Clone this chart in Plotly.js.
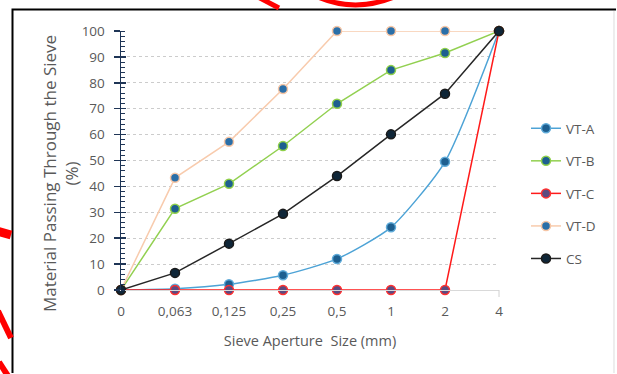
<!DOCTYPE html>
<html>
<head>
<meta charset="utf-8">
<script src="https://cdn.plot.ly/plotly-3.0.1.min.js"></script>
<style>
html,body{margin:0;padding:0;background:#fff;}
#chart{width:617px;height:374px;}
</style>
</head>
<body>
<div id="chart"></div>
<script>
// ---- data ----
const sieveSizes = ["0", "0,063", "0,125", "0,25", "0,5", "1", "2", "4"];
const vtA = [0, 0.5, 2.2, 5.7, 12, 24.2, 49.5, 100];
const vtB = [0, 31.4, 41, 55.6, 71.9, 84.9, 91.5, 100];
const vtC = [0, 0, 0, 0, 0, 0, 0, 100];
const vtD = [0, 43.3, 57.2, 77.6, 100, 100, 100, 100];
const cs  = [0, 6.6, 17.9, 29.4, 44, 60.1, 75.8, 100];
const seriesNames = ["VT-A", "VT-B", "VT-C", "VT-D", "CS"];

// ---- styles ----
const styles = [
  {line:'#4da3d6', fill:'#1d5f90', edge:'#5fabd9', shape:'spline'},
  {line:'#92d050', fill:'#1d5f90', edge:'#8fd04a', shape:'linear'},
  {line:'#ff1a1a', fill:'#5b4b80', edge:'#ff3030', shape:'linear'},
  {line:'#f8cbad', fill:'#2a6fa8', edge:'#f6c6a6', shape:'linear'},
  {line:'#262626', fill:'#0f2638', edge:'#1a1a1a', shape:'linear'}
];
const values = [vtA, vtB, vtC, vtD, cs];

const traces = values.map((v, i) => ({
  type: 'scatter',
  mode: 'lines+markers',
  x: sieveSizes,
  y: v,
  name: seriesNames[i],
  legendgroup: 'g' + i,
  line: {color: styles[i].line, width: 1.5, shape: styles[i].shape, smoothing: 0.6},
  marker: {size: 9, color: styles[i].fill, line: {color: styles[i].edge, width: 1.5}},
  cliponaxis: false
}));

// helper to convert pixel positions into paper coordinates (plot area 121..499 x 31..290)
const PX0 = 121, PX1 = 499, PY0 = 290, PY1 = 31;
const px = x => (x - PX0) / (PX1 - PX0);
const py = y => (PY0 - y) / (PY0 - PY1);
const P = (x, y) => `${px(x).toFixed(5)},${py(y).toFixed(5)}`;

const red = '#ff0000';
const shapes = [
  // frame
  {type:'path', xref:'paper', yref:'paper', layer:'above',
   path:`M ${P(12.5,373)} L ${P(12.5,9.5)} L ${P(616,9.5)}`,
   line:{color:'#000000', width:2}},
  {type:'path', xref:'paper', yref:'paper', layer:'above',
   path:`M ${P(614,11)} L ${P(614,373)}`,
   line:{color:'#dcdcdc', width:1}},
  // end tick on the category axis
  {type:'path', xref:'paper', yref:'paper', layer:'above',
   path:`M ${P(499,290)} L ${P(499,297)}`,
   line:{color:'#d0d0d0', width:1}},
  // red hand-drawn annotation marks (outside the frame)
  {type:'path', xref:'paper', yref:'paper', layer:'above',
   path:`M ${P(318,-3)} Q ${P(355,13)} ${P(394,-3)}`,
   line:{color:red, width:5}},
  {type:'path', xref:'paper', yref:'paper', layer:'above',
   path:`M ${P(258,-3)} L ${P(279,8)}`, line:{color:red, width:5}},
  {type:'path', xref:'paper', yref:'paper', layer:'above',
   path:`M ${P(-3,231)} L ${P(11,235)}`, line:{color:red, width:9}},
  {type:'path', xref:'paper', yref:'paper', layer:'above',
   path:`M ${P(-2,311)} L ${P(11,338)}`, line:{color:red, width:6}},
  {type:'path', xref:'paper', yref:'paper', layer:'above',
   path:`M ${P(-1,362)} L ${P(8,376)}`, line:{color:red, width:6}}
];

const tickFont = {family:'Open Sans, sans-serif', size:13.5, color:'#595959'};

const layout = {
  width: 617, height: 374,
  margin: {l: PX0, r: 617 - PX1, t: PY1, b: 374 - PY0},
  paper_bgcolor: '#fff', plot_bgcolor: '#fff',
  showlegend: true,
  legend: {x: px(526), y: py(113), xanchor:'left', yanchor:'top',
           font:{family:'Open Sans, sans-serif', size:13.5, color:'#595959'},
           tracegroupgap: 12, itemwidth: 30, bgcolor:'rgba(0,0,0,0)'},
  xaxis: {
    type:'category', range:[0, 7], fixedrange:true,
    showgrid:false, zeroline:false,
    showline:true, linecolor:'#d9d9d9', linewidth:1,
    ticks:'outside', ticklen:9, tickcolor:'rgba(0,0,0,0)',
    tickfont: tickFont,
    title:{text:'Sieve Aperture  Size (mm)', font:{family:'Open Sans, sans-serif', size:14.5, color:'#595959'}, standoff:16}
  },
  yaxis: {
    range:[0, 100], dtick:10, fixedrange:true,
    showgrid:true, gridcolor:'#cccccc', griddash:'dot', gridwidth:1,
    zeroline:false,
    showline:true, linecolor:'#1f3556', linewidth:1.5,
    ticks:'outside', ticklen:6, tickcolor:'#1f3556', tickwidth:1.5,
    minor:{ticks:'inside', dtick:2, ticklen:4, tickcolor:'#1f3556', tickwidth:1},
    tickfont: tickFont, ticklabelstandoff: 6
  },
  yaxis2: {
    overlaying:'y', range:[0, 100], dtick:10, side:'left', fixedrange:true,
    showgrid:false, zeroline:false, showline:false, showticklabels:false,
    ticks:'inside', ticklen:5, tickcolor:'#1f3556', tickwidth:1.5
  },
  annotations: [
    {xref:'paper', yref:'paper', x: px(60), y: py(174), xanchor:'center', yanchor:'middle',
     textangle:-90, showarrow:false,
     text:'Material Passing Through the Sieve<br>(%)',
     font:{family:'Open Sans, sans-serif', size:17, color:'#595959'}}
  ],
  shapes: shapes
};

// invisible helper trace to show yaxis2 ticks
traces.unshift({type:'scatter', x:[sieveSizes[0]], y:[0], yaxis:'y2', mode:'markers',
  marker:{opacity:0}, showlegend:false, hoverinfo:'skip'});

Plotly.newPlot('chart', traces, layout, {staticPlot:true, displayModeBar:false});
</script>
</body>
</html>
